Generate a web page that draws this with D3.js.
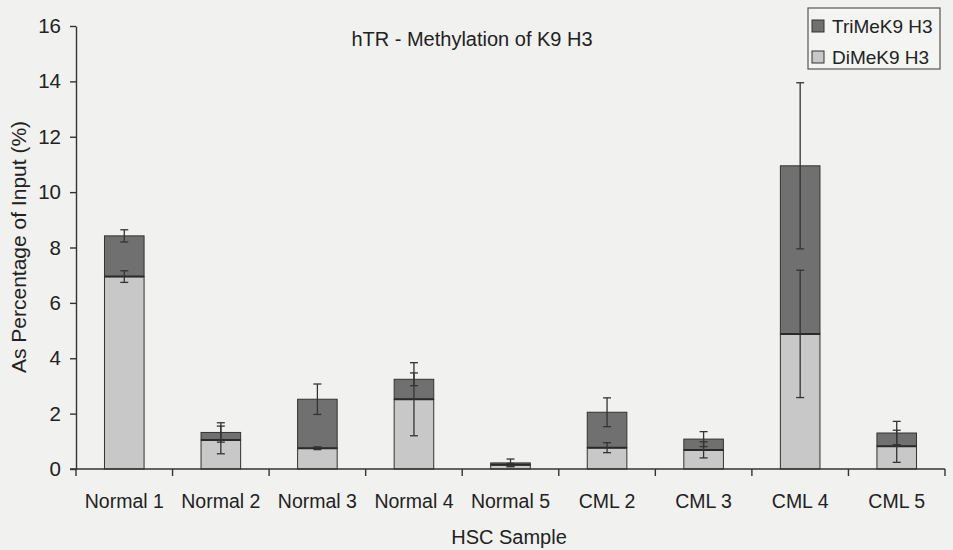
<!DOCTYPE html>
<html>
<head>
<meta charset="utf-8">
<script src="https://cdn.jsdelivr.net/npm/d3@7"></script>
<style>
  html, body { margin: 0; padding: 0; background: #f1f1ef; }
  svg { display: block; font-family: Arial, "Liberation Sans", sans-serif; }
</style>
</head>
<body>
<svg id="chart" width="953" height="550"></svg>
<script>
// Samples and measured enrichment (% of input)
const categories = ["Normal 1", "Normal 2", "Normal 3", "Normal 4", "Normal 5", "CML 2", "CML 3", "CML 4", "CML 5"];
const diMe  = [6.95, 1.05, 0.75, 2.52, 0.15, 0.77, 0.69, 4.88, 0.82];
const triMe = [1.47, 0.27, 1.77, 0.72, 0.07, 1.28, 0.39, 6.07, 0.48];
const diErr  = [0.21, 0.50, 0.05, 1.32, 0.05, 0.18, 0.29, 2.30, 0.58];
const triErr = [0.22, 0.35, 0.55, 0.23, 0.14, 0.52, 0.27, 3.00, 0.42];
const yTicks = [0, 2, 4, 6, 8, 10, 12, 14, 16];
const seriesNames = ["TriMeK9 H3", "DiMeK9 H3"];

const svg = d3.select("#chart");
const plotL = 76, plotR = 945, plotT = 26, plotB = 469;
const ink = "#333333";
const textCol = "#222222";
const colTri = "#707070", colDi = "#c8c8c8";

const x = d3.scaleBand().domain(categories).range([plotL, plotR]).padding(0);
const y = d3.scaleLinear().domain([0, 16]).range([plotB, plotT]);
const barW = x.bandwidth() * 0.41;

// stacked rows
const rows = categories.map((c, i) => ({
  cat: c, di: diMe[i], tri: triMe[i], total: diMe[i] + triMe[i],
  diErr: diErr[i], triErr: triErr[i]
}));

// bars
const g = svg.append("g");
rows.forEach(r => {
  const x0 = x(r.cat) + (x.bandwidth() - barW) / 2;
  g.append("rect").attr("x", x0).attr("y", y(r.di))
    .attr("width", barW).attr("height", y(0) - y(r.di))
    .attr("fill", colDi).attr("stroke", ink).attr("stroke-width", 1);
  g.append("rect").attr("x", x0).attr("y", y(r.total))
    .attr("width", barW).attr("height", y(r.di) - y(r.total))
    .attr("fill", colTri).attr("stroke", ink).attr("stroke-width", 1);
  g.append("line").attr("x1", x0).attr("x2", x0 + barW)
    .attr("y1", y(r.di)).attr("y2", y(r.di))
    .attr("stroke", "#2a2a2a").attr("stroke-width", 2);
});

// error bars
function errBar(cx, v, e) {
  const cap = 4;
  g.append("line").attr("x1", cx).attr("x2", cx).attr("y1", y(v + e)).attr("y2", y(Math.max(0, v - e)))
    .attr("stroke", ink).attr("stroke-width", 1.3);
  [v + e, Math.max(0, v - e)].forEach(t => {
    g.append("line").attr("x1", cx - cap).attr("x2", cx + cap).attr("y1", y(t)).attr("y2", y(t))
      .attr("stroke", ink).attr("stroke-width", 1.3);
  });
}
rows.forEach(r => {
  const cx = x(r.cat) + x.bandwidth() / 2;
  errBar(cx, r.di, r.diErr);
  errBar(cx, r.total, r.triErr);
});

// y axis
const yAxis = d3.axisLeft(y).tickValues(yTicks).tickSize(6).tickPadding(9).tickSizeOuter(0);
const ya = svg.append("g").attr("transform", `translate(${plotL},0)`).call(yAxis);
ya.select(".domain").attr("stroke", ink).attr("stroke-width", 1.4);
ya.selectAll(".tick line").attr("stroke", ink).attr("stroke-width", 1.4);
ya.selectAll("text").attr("font-size", 20.5).attr("fill", textCol).attr("font-family", "Arial, 'Liberation Sans', sans-serif");

// x axis: line with ticks at category boundaries
const xa = svg.append("g");
xa.append("line").attr("x1", plotL - 6).attr("x2", plotR).attr("y1", y(0)).attr("y2", y(0))
  .attr("stroke", ink).attr("stroke-width", 1.4);
categories.concat([null]).forEach(c => {
  const bx = c ? x(c) : plotR;
  xa.append("line").attr("x1", bx).attr("x2", bx).attr("y1", y(0)).attr("y2", y(0) + 7)
    .attr("stroke", ink).attr("stroke-width", 1.4);
});
xa.selectAll("text.cat").data(categories).enter().append("text")
  .attr("class", "cat")
  .attr("x", d => x(d) + x.bandwidth() / 2).attr("y", 508)
  .attr("text-anchor", "middle").attr("font-size", 19.5).attr("fill", textCol)
  .text(d => d);

// titles
svg.append("text").attr("x", 472).attr("y", 46).attr("text-anchor", "middle")
  .attr("font-size", 20).attr("fill", textCol).text("hTR - Methylation of K9 H3");
svg.append("text").attr("x", 509).attr("y", 544).attr("text-anchor", "middle")
  .attr("font-size", 20).attr("fill", textCol).text("HSC Sample");
svg.append("text").attr("transform", "translate(26,247) rotate(-90)").attr("text-anchor", "middle")
  .attr("font-size", 21).attr("fill", textCol).text("As Percentage of Input (%)");

// legend
const lg = svg.append("g");
lg.append("rect").attr("x", 808).attr("y", 8).attr("width", 132).attr("height", 61)
  .attr("fill", "#f4f4f2").attr("stroke", "#555").attr("stroke-width", 1.2);
[colTri, colDi].forEach((col, i) => {
  const cy = 26 + i * 31;
  lg.append("rect").attr("x", 812).attr("y", cy - 6).attr("width", 12).attr("height", 12)
    .attr("fill", col).attr("stroke", ink).attr("stroke-width", 1);
  lg.append("text").attr("x", 832).attr("y", cy + 7).attr("font-size", 19)
    .attr("fill", textCol).text(seriesNames[i]);
});
</script>
</body>
</html>
